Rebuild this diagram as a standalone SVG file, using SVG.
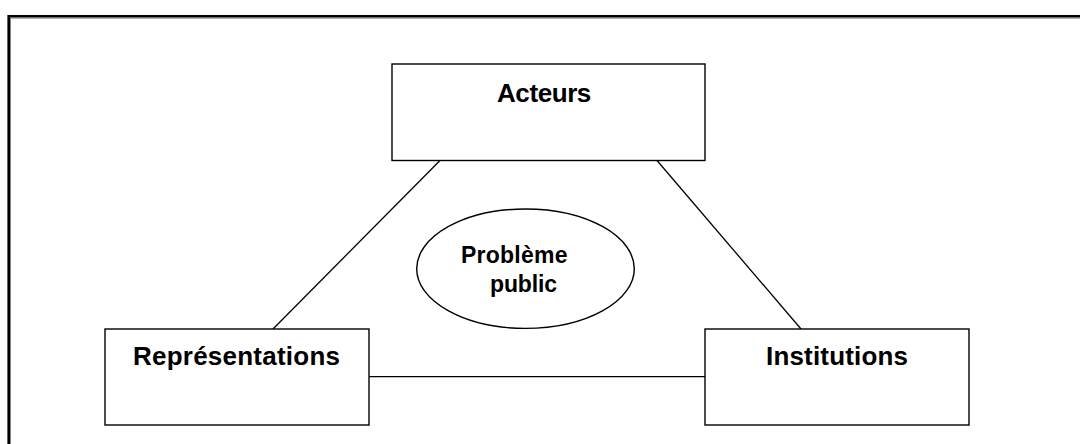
<svg xmlns="http://www.w3.org/2000/svg" width="1080" height="444" viewBox="0 0 1080 444">
  <style>
    .frame { fill: none; stroke: #000; stroke-width: 2.6; }
    .frame-inner { fill: none; stroke: #808080; stroke-width: 1; }
    .box { fill: #fff; stroke: #000; stroke-width: 1.4; }
    .link { stroke: #000; stroke-width: 1.3; fill: none; }
    .label { font-family: "Liberation Sans", Arial, sans-serif; font-weight: bold; fill: #000; }
  </style>
  <rect width="1080" height="444" fill="#fff"/>

  <!-- outer page frame (continues past the right and bottom edges) -->
  <g id="frame">
    <rect class="frame" x="8.7" y="16.3" width="1200" height="600"/>
    <rect class="frame-inner" x="10.5" y="18.1" width="1200" height="600"/>
  </g>

  <!-- connectors -->
  <g id="connectors">
    <line class="link" x1="440" y1="160.5" x2="273" y2="329"/>
    <line class="link" x1="657" y1="160.5" x2="801" y2="329"/>
    <line class="link" x1="369" y1="376.7" x2="705" y2="376.7"/>
  </g>

  <g id="acteurs">
    <rect class="box" x="392" y="64" width="313" height="96.5"/>
    <text class="label" x="497" y="101.7" font-size="26" textLength="94.3">Acteurs</text>
  </g>

  <g id="representations">
    <rect class="box" x="105" y="329" width="264" height="96"/>
    <text class="label" x="133" y="365" font-size="26" textLength="207">Représentations</text>
  </g>

  <g id="institutions">
    <rect class="box" x="705" y="329" width="264" height="96"/>
    <text class="label" x="766" y="365" font-size="26" textLength="142">Institutions</text>
  </g>

  <g id="probleme-public">
    <ellipse class="box" cx="525.5" cy="268.7" rx="108.8" ry="59.7"/>
    <text class="label" x="461" y="263.3" font-size="23" textLength="106.5">Problème</text>
    <text class="label" x="490" y="291.5" font-size="23" textLength="67">public</text>
  </g>
</svg>
